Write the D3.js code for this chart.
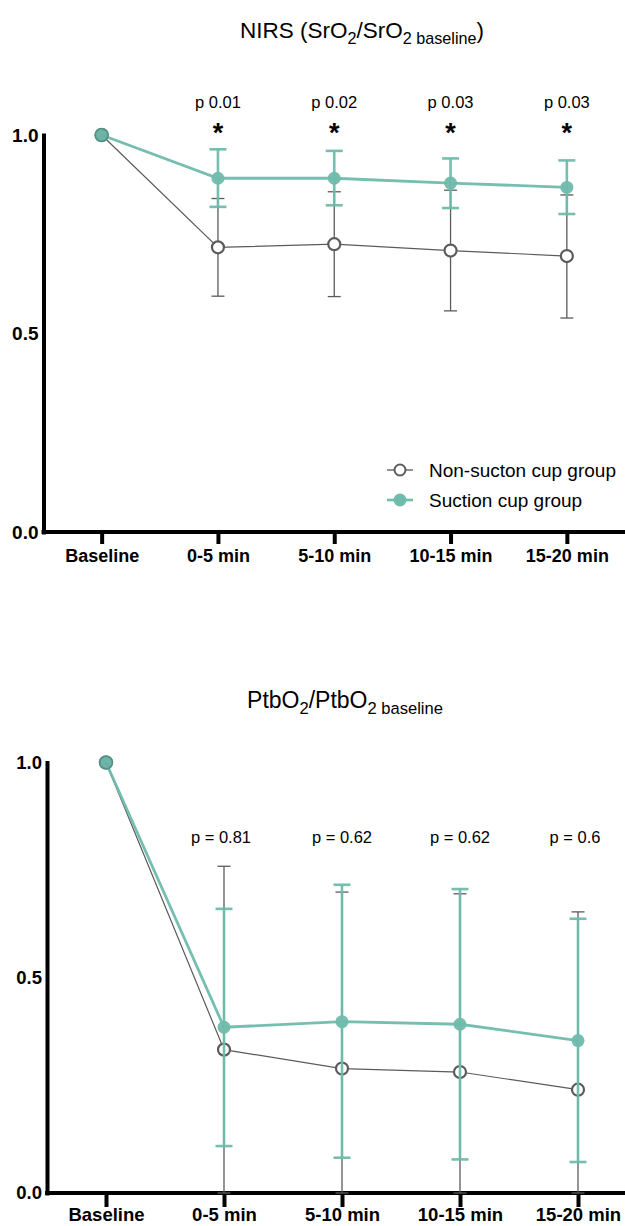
<!DOCTYPE html>
<html>
<head>
<meta charset="utf-8">
<script src="https://cdn.jsdelivr.net/npm/d3@7"></script>
<style>
  html, body { margin: 0; padding: 0; background: #fff; }
  svg { display: block; font-family: "Liberation Sans", Arial, Helvetica, sans-serif; }
</style>
</head>
<body>
<svg id="chart" width="625" height="1226"></svg>
<script>
// ---------- DATA ----------
const categories = ["Baseline", "0-5 min", "5-10 min", "10-15 min", "15-20 min"];
const yTicks = [0, 0.5, 1.0];
const seriesNames = ["Non-sucton cup group", "Suction cup group"];

// NIRS (SrO2 / SrO2 baseline)
const nirsNonMean  = [1.0, 0.717, 0.725, 0.709, 0.695];
const nirsNonUpper = [null, 0.840, 0.857, 0.861, 0.849];
const nirsNonLower = [null, 0.594, 0.593, 0.557, 0.539];
const nirsSucMean  = [1.0, 0.891, 0.891, 0.879, 0.868];
const nirsSucUpper = [null, 0.964, 0.960, 0.941, 0.936];
const nirsSucLower = [null, 0.819, 0.823, 0.816, 0.801];
const nirsPLabels  = [null, "p 0.01", "p 0.02", "p 0.03", "p 0.03"];
const nirsStars    = [null, "*", "*", "*", "*"];

// PtbO2 / PtbO2 baseline
const ptbNonMean  = [1.0, 0.333, 0.289, 0.281, 0.240];
const ptbNonUpper = [null, 0.759, 0.699, 0.695, 0.653];
const ptbNonLower = [null, 0.0, 0.0, 0.0, 0.0];
const ptbSucMean  = [1.0, 0.385, 0.398, 0.392, 0.354];
const ptbSucUpper = [null, 0.660, 0.716, 0.706, 0.637];
const ptbSucLower = [null, 0.109, 0.082, 0.078, 0.072];
const ptbPLabels  = [null, "p = 0.81", "p = 0.62", "p = 0.62", "p = 0.6"];

// ---------- STYLE ----------
const TEAL = "#6fbbac";
const TEAL_DARK = "#4f9587";
const GRAY = "#5b5b5b";

const svg = d3.select("#chart");

function drawPanel(cfg) {
  const g = svg.append("g");
  const x = d3.scalePoint().domain(categories).range([cfg.axisX, cfg.xRight]).padding(0.5);
  const y = d3.scaleLinear().domain([0, 1]).range([cfg.y0, cfg.y1]);

  // title
  const t = g.append("text")
    .attr("x", cfg.titleX).attr("y", cfg.titleY)
    .attr("text-anchor", "middle")
    .attr("font-size", cfg.titleSize).attr("fill", "#000");
  cfg.titleParts.forEach(p => {
    const ts = t.append("tspan").text(p.text);
    if (p.sub) ts.attr("font-size", cfg.titleSize * 0.72).attr("dy", p.dy);
    else if (p.dy) ts.attr("dy", p.dy);
  });

  // y axis
  const ya = g.append("g")
    .attr("transform", `translate(${cfg.axisX},0)`)
    .call(d3.axisLeft(y).tickValues(yTicks).tickFormat(d3.format(".1f")).tickSize(0).tickSizeOuter(0).tickPadding(5));
  ya.select(".domain").attr("stroke", "#000").attr("stroke-width", 4).attr("stroke-linecap", "square");
  ya.selectAll("text").attr("font-size", cfg.yLabelSize).attr("font-weight", "bold").attr("fill", "#000")
    .attr("font-family", "Liberation Sans, Arial, sans-serif");

  // x axis
  const xa = g.append("g")
    .attr("transform", `translate(0,${cfg.y0})`)
    .call(d3.axisBottom(x).tickSize(cfg.tickLen).tickSizeOuter(0).tickPadding(cfg.xPad));
  xa.select(".domain").remove();
  xa.append("line").attr("x1", cfg.axisX).attr("x2", 625).attr("y1", 0).attr("y2", 0)
    .attr("stroke", "#000").attr("stroke-width", 4).attr("stroke-linecap", "square");
  xa.selectAll(".tick line").attr("stroke", "#000").attr("stroke-width", 4);
  xa.selectAll("text").attr("font-size", cfg.xLabelSize).attr("font-weight", "bold").attr("fill", "#000")
    .attr("font-family", "Liberation Sans, Arial, sans-serif");

  const idx = d3.range(categories.length);

  function drawSeries(mean, upper, lower, style) {
    const sg = g.append("g");
    // error bars
    idx.filter(i => upper[i] != null).forEach(i => {
      const cx = x(categories[i]);
      sg.append("line").attr("x1", cx).attr("x2", cx).attr("y1", y(lower[i])).attr("y2", y(upper[i]))
        .attr("stroke", style.color).attr("stroke-width", style.ebWidth).attr("opacity", style.opacity);
      [upper[i], lower[i]].forEach(v => {
        sg.append("line").attr("x1", cx - style.cap).attr("x2", cx + style.cap)
          .attr("y1", y(v)).attr("y2", y(v))
          .attr("stroke", style.color).attr("stroke-width", style.ebWidth).attr("opacity", style.opacity);
      });
    });
    // connecting line
    const line = d3.line().x((d, i) => x(categories[i])).y(d => y(d));
    sg.append("path").datum(mean).attr("d", line).attr("fill", "none")
      .attr("stroke", style.color).attr("stroke-width", style.lineWidth).attr("opacity", style.opacity);
    // markers
    sg.selectAll("circle").data(mean).enter().append("circle")
      .attr("cx", (d, i) => x(categories[i])).attr("cy", d => y(d))
      .attr("r", style.r)
      .attr("fill", (d, i) => (i === 0 && style.filled) ? style.baseFill : style.fill)
      .attr("stroke", (d, i) => (i === 0 && style.filled) ? TEAL_DARK : style.stroke)
      .attr("stroke-width", (d, i) => (i === 0 && style.filled) ? 1.5 : style.strokeWidth)
      .attr("opacity", style.opacity);
  }

  const grayStyle = { color: GRAY, ebWidth: 1.3, cap: 6.5, lineWidth: 1.2, r: 6, fill: "#fff", stroke: GRAY, strokeWidth: 2.2, filled: false, opacity: 1 };
  const tealStyle = { color: TEAL, ebWidth: 2.6, cap: 8.5, lineWidth: 2.8, r: 6.5, fill: TEAL, stroke: "none", strokeWidth: 0, filled: true, baseFill: "#69b0a2", opacity: 0.95 };

  drawSeries(cfg.nonMean, cfg.nonUpper, cfg.nonLower, grayStyle);
  drawSeries(cfg.sucMean, cfg.sucUpper, cfg.sucLower, tealStyle);

  // p labels
  cfg.pLabels.forEach((p, i) => {
    if (p == null) return;
    g.append("text").attr("x", x(categories[i]) + (cfg.pOffsets ? cfg.pOffsets[i] : 0)).attr("y", cfg.pY)
      .attr("text-anchor", "middle").attr("font-size", cfg.pSize).attr("fill", "#000").text(p);
  });
  if (cfg.stars) {
    cfg.stars.forEach((s, i) => {
      if (s == null) return;
      g.append("text").attr("x", x(categories[i])).attr("y", cfg.starY)
        .attr("text-anchor", "middle").attr("font-size", 27).attr("font-weight", "bold")
        .attr("fill", "#000").text(s);
    });
  }
  return { x, y, g };
}

// ---------- TOP PANEL ----------
const topPanel = drawPanel({
  axisX: 43.5, xRight: 625, y0: 532, y1: 135,
  titleX: 362, titleY: 38, titleSize: 22.5,
  titleParts: [
    { text: "NIRS (SrO" },
    { text: "2", sub: true, dy: 6 },
    { text: "/SrO", dy: -6 },
    { text: "2 baseline", sub: true, dy: 6 },
    { text: ")", dy: -6 }
  ],
  yLabelSize: 19, xLabelSize: 18, tickLen: 12, xPad: 5,
  nonMean: nirsNonMean, nonUpper: nirsNonUpper, nonLower: nirsNonLower,
  sucMean: nirsSucMean, sucUpper: nirsSucUpper, sucLower: nirsSucLower,
  pLabels: nirsPLabels, pY: 108, pSize: 16.5,
  stars: nirsStars, starY: 142
});

// legend
const legend = svg.append("g");
seriesNames.forEach((name, i) => {
  const ly = 470 + i * 30;
  const isTeal = i === 1;
  legend.append("line").attr("x1", 387).attr("x2", 413).attr("y1", ly).attr("y2", ly)
    .attr("stroke", isTeal ? TEAL : GRAY).attr("stroke-width", isTeal ? 2.6 : 1.3);
  legend.append("circle").attr("cx", 400).attr("cy", ly).attr("r", isTeal ? 6.5 : 5.5)
    .attr("fill", isTeal ? TEAL : "#fff").attr("stroke", isTeal ? "none" : GRAY).attr("stroke-width", 2);
  legend.append("text").attr("x", 429).attr("y", ly + 7).attr("font-size", 19).attr("fill", "#000").text(name);
});

// ---------- BOTTOM PANEL ----------
const bottomPanel = drawPanel({
  axisX: 47, xRight: 637, y0: 1193, y1: 762.5,
  titleX: 345, titleY: 708, titleSize: 23,
  titleParts: [
    { text: "PtbO" },
    { text: "2", sub: true, dy: 6 },
    { text: "/PtbO", dy: -6 },
    { text: "2 baseline", sub: true, dy: 6 }
  ],
  yLabelSize: 18.5, xLabelSize: 18.5, tickLen: 14, xPad: 1,
  nonMean: ptbNonMean, nonUpper: ptbNonUpper, nonLower: ptbNonLower,
  sucMean: ptbSucMean, sucUpper: ptbSucUpper, sucLower: ptbSucLower,
  pLabels: ptbPLabels, pY: 843, pSize: 16.5, pOffsets: [0, -3, 0, 0, -3]
});
</script>
</body>
</html>
